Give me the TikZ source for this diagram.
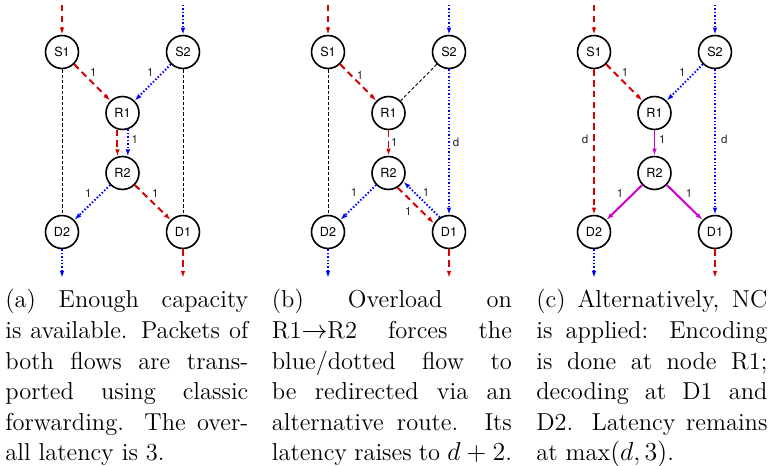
\documentclass[tikz,border=0pt]{standalone}
\usepackage{fontspec}
\newfontfamily\helv{TeX Gyre Heros}
\usetikzlibrary{arrows.meta}
\definecolor{fred}{RGB}{215,0,0}
\definecolor{fblue}{RGB}{0,0,255}
\definecolor{fmag}{RGB}{204,0,204}
\begin{document}
\begin{tikzpicture}[x=0.5556pt,y=-0.5556pt,
 nd/.style={circle,draw,line width=0.9pt,minimum size=18.3pt,inner sep=0pt,font=\helv\fontsize{7}{8}\selectfont},
 lbl/.style={font=\helv\fontsize{6.4}{7}\selectfont,inner sep=0pt,text=black!85},
 tipst/.style={-{Latex[length=4pt,width=2.6pt]}},
 redf/.style={draw=fred,line width=1.1pt,dash pattern=on 3.6pt off 2.4pt,tipst},
 bluef/.style={draw=fblue,line width=1.1pt,dash pattern=on 0.8pt off 1.1pt,tipst},
 magf/.style={draw=fmag,line width=1.1pt,tipst},
 blk/.style={draw=black,line width=0.5pt,dash pattern=on 1.8pt off 1.2pt},
 captxt/.style={anchor=base west,inner sep=0pt,font=\fontsize{13.6}{16.95}\selectfont}]
\useasboundingbox (0,0) rectangle (773,466);
\foreach \p/\o in {a/0,b/266,c/532}{
  \node[nd] (\p S1) at (62+\o,52) {S1};
  \node[nd] (\p S2) at (183+\o,52) {S2};
  \node[nd] (\p R1) at (122.5+\o,113) {R1};
  \node[nd] (\p R2) at (122.5+\o,173) {R2};
  \node[nd] (\p D2) at (62+\o,232) {D2};
  \node[nd] (\p D1) at (183+\o,232) {D1};
  \coordinate (\p in1) at (62+\o,5);
  \coordinate (\p in2) at (183+\o,5);
  \coordinate (\p out2) at (62+\o,278);
  \coordinate (\p out1) at (183+\o,278);
}
% panel (a)
\draw[redf] (ain1) -- (aS1);
\draw[bluef] (ain2) -- (aS2);
\draw[blk] (aS1) -- (aD2);
\draw[blk] (aS2) -- (aD1);
\draw[redf] (aS1) -- node[lbl,shift={(1,-10.5)}]{1} (aR1);
\draw[bluef] (aS2) -- node[lbl,shift={(-2.5,-10.5)}]{1} (aR1);
\draw[redf] (aR1.-107.6) -- (aR2.107.6);
\draw[bluef] (aR1.-72.4) -- node[lbl,shift={(7,-4)}]{1} (aR2.72.4);
\draw[bluef] (aR2) -- node[lbl,shift={(-4,-9.5)}]{1} (aD2);
\draw[redf] (aR2) -- node[lbl,shift={(2.5,-9.5)}]{1} (aD1);
\draw[bluef] (aD2) -- (aout2);
\draw[redf] (aD1) -- (aout1);
% panel (b)
\draw[redf] (bin1) -- (bS1);
\draw[bluef] (bin2) -- (bS2);
\draw[blk] (bS1) -- (bD2);
\draw[blk] (bS2) -- (bR1);
\draw[redf] (bS1) -- node[lbl,shift={(1.75,-7.5)}]{1} (bR1);
\draw[bluef] (bS2) -- node[lbl,shift={(7,0.7)}]{d} (bD1);
\draw[redf] (bR1) -- node[lbl,shift={(5.8,-0.3)}]{1} (bR2);
\draw[bluef] (bR2) -- node[lbl,shift={(-4.25,-9.8)}]{1} (bD2);
\draw[redf] (bR2.-58) -- node[lbl,shift={(-7.5,6.2)}]{1} (bD1.150);
\draw[bluef] (bD1.122) -- node[lbl,shift={(4.4,-6.8)}]{1} (bR2.-30);
\draw[bluef] (bD2) -- (bout2);
\draw[redf] (bD1) -- (bout1);
% panel (c)
\draw[redf] (cin1) -- (cS1);
\draw[bluef] (cin2) -- (cS2);
\draw[redf] (cS1) -- node[lbl,shift={(0.75,-9.8)}]{1} (cR1);
\draw[bluef] (cS2) -- node[lbl,shift={(-2.4,-9.8)}]{1} (cR1);
\draw[redf] (cS1) -- node[lbl,shift={(-9,-2.7)}]{d} (cD2);
\draw[bluef] (cS2) -- node[lbl,shift={(9.3,-2.7)}]{d} (cD1);
\draw[magf] (cR1) -- node[lbl,shift={(7.8,-3.7)}]{1} (cR2);
\draw[magf] (cR2) -- node[lbl,shift={(-4.25,-9.2)}]{1} (cD2);
\draw[magf] (cR2) -- node[lbl,shift={(4.25,-9.2)}]{1} (cD1);
\draw[bluef] (cD2) -- (cout2);
\draw[redf] (cD1) -- (cout1);
% captions
\node[captxt] (capa) at (5,308) {\parbox[t]{135pt}{(a) Enough capacity\linebreak is available. Packets of\linebreak both flows are trans-\linebreak ported using classic\linebreak forwarding. The over-\linebreak all latency is 3.}};
\node[captxt] (capb) at (271.5,308) {\parbox[t]{133.4pt}{(b) Overload on\linebreak R1$\rightarrow$R2 forces the\linebreak blue/dotted flow to\linebreak be redirected via an\linebreak alternative route. Its\linebreak latency raises to $d\mskip1.5mu+\mskip1.5mu2$.}};
\node[captxt] (capc) at (536,308) {\parbox[t]{128.4pt}{(c) Alternatively, NC\linebreak is applied: Encoding\linebreak is done at node R1;\linebreak decoding at D1 and\linebreak D2. Latency remains\linebreak at $\max(d,3)$.}};
\end{tikzpicture}
\end{document}
